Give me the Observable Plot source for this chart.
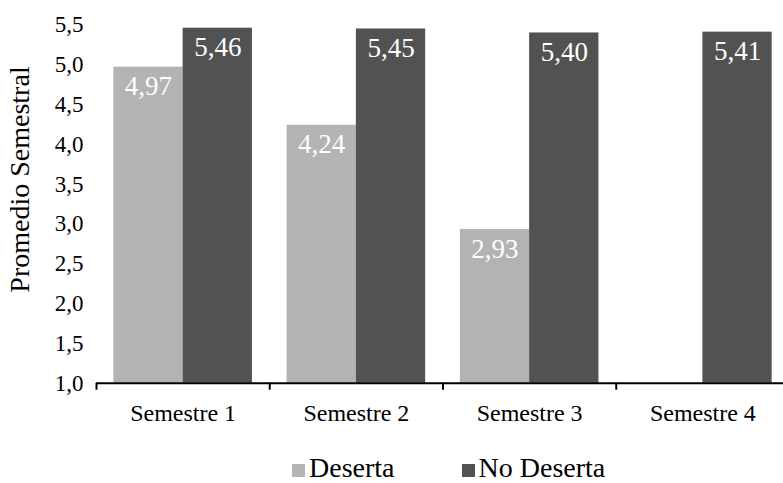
<!DOCTYPE html>
<html>
<head>
<meta charset="utf-8">
<script src="https://cdn.jsdelivr.net/npm/d3@7"></script>
<script src="https://cdn.jsdelivr.net/npm/@observablehq/plot@0.6"></script>
<style>
  html, body { margin: 0; padding: 0; background: #fff; overflow: hidden; }
  #chart { position: relative; width: 783px; height: 483px; font-family: 'Liberation Serif', serif; }
  .legend { position: absolute; top: 454px; left: 292px; display: flex; align-items: baseline; font-family: 'Liberation Serif', serif; font-size: 28px; line-height: 28px; color: #000; }
  .legend .item { display: flex; align-items: baseline; }
  .legend .item + .item { margin-left: 67px; }
  .legend .sw { display: inline-block; width: 13px; height: 13px; margin-right: 4px; }
</style>
</head>
<body>
<div id="chart"></div>
<script>
// Promedio semestral por semestre, estudiantes que desertan y que no desertan
const semestres = ["Semestre 1", "Semestre 2", "Semestre 3", "Semestre 4"];
const deserta = [4.97, 4.24, 2.93, null];
const noDeserta = [5.46, 5.45, 5.40, 5.41];
const series = ["Deserta", "No Deserta"];
const colores = ["#b3b3b3", "#525252"];
const yTicks = [1.0, 1.5, 2.0, 2.5, 3.0, 3.5, 4.0, 4.5, 5.0, 5.5];

const es = d3.formatLocale({decimal: ",", thousands: ".", grouping: [3], currency: ["$", ""]});
const fmt1 = es.format(".1f");
const fmt2 = es.format(".2f");

// one row per bar; each semester occupies one unit of the x scale,
// the two series split 80% of it with 10% padding on either side
const filas = [];
semestres.forEach((s, i) => {
  [deserta[i], noDeserta[i]].forEach((v, j) => {
    if (v == null) return;
    filas.push({semestre: s, serie: series[j], valor: v, x1: i + 0.1 + 0.4 * j, x2: i + 0.5 + 0.4 * j});
  });
});

const font = "Liberation Serif";

const plot = Plot.plot({
  width: 783,
  height: 430,
  marginLeft: 96,
  marginRight: -6,
  marginTop: 24.5,
  marginBottom: 47.3,
  style: {fontFamily: font, fontSize: "23px", color: "#000", background: "#fff"},
  x: {domain: [0, semestres.length], axis: null},
  y: {domain: [1, 5.5], axis: null},
  color: {domain: series, range: colores},
  marks: [
    Plot.rect(filas, {x1: "x1", x2: "x2", y1: 1, y2: "valor", fill: "serie"}),
    Plot.text(filas, {
      x: d => (d.x1 + d.x2) / 2, y: "valor", text: d => fmt2(d.valor),
      fill: "white", lineAnchor: "top", dy: 9, fontSize: 27, fontFamily: font
    }),
    Plot.ruleY([1], {stroke: "#000", strokeWidth: 2}),
    // boundary ticks between semesters
    Plot.axisX({ticks: d3.range(semestres.length + 1), tickFormat: () => "", tickSize: 7, strokeWidth: 2, label: null}),
    // semester names centred in each slot
    Plot.axisX({
      ticks: semestres.map((s, i) => i + 0.5),
      tickFormat: d => semestres[Math.round(d - 0.5)],
      tickSize: 0, tickPadding: 21, fontSize: 24, fontFamily: font, label: null
    }),
    Plot.axisY({ticks: yTicks, tickFormat: fmt1, tickSize: 0, tickPadding: 13, fontSize: 23, fontFamily: font, label: null}),
    Plot.text(["Promedio Semestral"], {
      frameAnchor: "left", textAnchor: "middle", rotate: -90,
      dx: -76, dy: -24.6, fontSize: 28, fontFamily: font
    })
  ]
});

const chart = document.getElementById("chart");
chart.appendChild(plot);

// legend below the plot
const legend = document.createElement("div");
legend.className = "legend";
series.forEach((s, j) => {
  const item = document.createElement("span");
  item.className = "item";
  const sw = document.createElement("span");
  sw.className = "sw";
  sw.style.background = colores[j];
  const label = document.createElement("span");
  label.textContent = s;
  item.appendChild(sw);
  item.appendChild(label);
  legend.appendChild(item);
});
chart.appendChild(legend);
</script>
</body>
</html>
